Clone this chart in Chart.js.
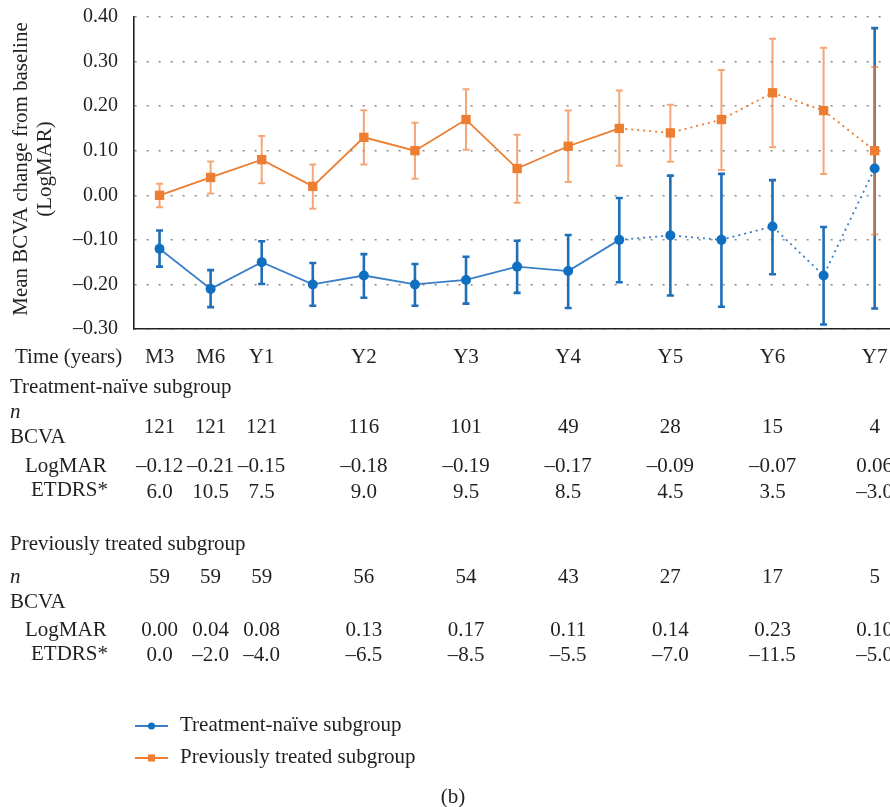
<!DOCTYPE html>
<html lang="en">
<head>
<meta charset="UTF-8">
<title>Mean BCVA change from baseline</title>
<script src="https://cdn.jsdelivr.net/npm/chart.js"></script>
<style>
  body { margin: 0; background: #fff; overflow: hidden; }
</style>
</head>
<body>
<canvas id="bcva" width="890" height="807"></canvas>
<script>
// time points: M3, M6, Y1 then every half year up to Y7
const timeLabels = ['M3', 'M6', 'Y1', '', 'Y2', '', 'Y3', '', 'Y4', '', 'Y5', '', 'Y6', '', 'Y7'];

// treatment-naive subgroup (LogMAR), mean and error bar ends
const naiveMean = [-0.12, -0.21, -0.15, -0.20, -0.18, -0.20, -0.19, -0.16, -0.17, -0.10, -0.09, -0.10, -0.07, -0.18, 0.06];
const naiveHigh = [-0.079, -0.168, -0.103, -0.152, -0.132, -0.154, -0.138, -0.102, -0.089, -0.006, 0.044, 0.048, 0.034, -0.071, 0.375];
const naiveLow = [-0.160, -0.251, -0.199, -0.248, -0.230, -0.248, -0.243, -0.219, -0.253, -0.195, -0.225, -0.250, -0.177, -0.290, -0.254];

// previously treated subgroup
const prevMean = [0.00, 0.04, 0.08, 0.02, 0.13, 0.10, 0.17, 0.06, 0.11, 0.15, 0.14, 0.17, 0.23, 0.19, 0.10];
const prevHigh = [0.026, 0.076, 0.133, 0.069, 0.191, 0.163, 0.238, 0.136, 0.190, 0.235, 0.203, 0.281, 0.351, 0.331, 0.288];
const prevLow = [-0.027, 0.004, 0.027, -0.030, 0.069, 0.037, 0.102, -0.017, 0.030, 0.066, 0.075, 0.057, 0.108, 0.048, -0.088];

// the line turns dotted from this point on
const dottedFrom = 9;

// table under the chart, only at the labelled time points
const tableCols = [0, 1, 2, 4, 6, 8, 10, 12, 14];
const naiveN = [121, 121, 121, 116, 101, 49, 28, 15, 4];
const naiveLogmar = [-0.12, -0.21, -0.15, -0.18, -0.19, -0.17, -0.09, -0.07, 0.06];
const naiveEtdrs = [6.0, 10.5, 7.5, 9.0, 9.5, 8.5, 4.5, 3.5, -3.0];
const prevN = [59, 59, 59, 56, 54, 43, 27, 17, 5];
const prevLogmar = [0.00, 0.04, 0.08, 0.13, 0.17, 0.11, 0.14, 0.23, 0.10];
const prevEtdrs = [0.0, -2.0, -4.0, -6.5, -8.5, -5.5, -7.0, -11.5, -5.0];

const BLUE = '#0f6fc0';
const BLUE_LINE = '#3a7fc6';
const ORANGE = '#ed7d31';
const TEXT = '#231f20';
const SERIF = '"Liberation Serif", "Times New Roman", serif';
const FONT = '21px ' + SERIF;

function fmt(v, d) {
  v = Math.round(v * 1000) / 1000;
  return (v < 0 ? '\u2013' : '') + Math.abs(v).toFixed(d);
}

const toPts = arr => arr.map((y, i) => ({ x: i, y: y }));
const dotted = ctx => ctx.p0DataIndex >= dottedFrom ? [2, 4] : undefined;

const errorBars = {
  id: 'errorBars',
  beforeDatasetsDraw(chart) {
    const { ctx, scales: { x, y } } = chart;
    const draw = (hi, lo, color, width) => {
      ctx.save();
      ctx.strokeStyle = color;
      ctx.lineWidth = width;
      hi.forEach((h, i) => {
        const px = x.getPixelForValue(i);
        const y1 = y.getPixelForValue(h), y2 = y.getPixelForValue(lo[i]);
        ctx.beginPath();
        ctx.moveTo(px, y1); ctx.lineTo(px, y2);
        ctx.moveTo(px - 3.5, y1); ctx.lineTo(px + 3.5, y1);
        ctx.moveTo(px - 3.5, y2); ctx.lineTo(px + 3.5, y2);
        ctx.stroke();
      });
      ctx.restore();
    };
    draw(naiveHigh, naiveLow, '#1f6fb8', 2.6);
    draw(prevHigh, prevLow, 'rgba(240,128,60,0.7)', 2);
  }
};

const extras = {
  id: 'extras',
  afterDraw(chart) {
    const { ctx, scales: { x } } = chart;
    const text = (s, px, py, align, font) => {
      ctx.font = font || FONT;
      ctx.textAlign = align || 'left';
      ctx.fillText(s, px, py);
    };
    ctx.save();
    ctx.fillStyle = TEXT;
    ctx.textBaseline = 'middle';

    // y axis title
    ctx.save();
    ctx.translate(33, 169);
    ctx.rotate(-Math.PI / 2);
    text('Mean BCVA change from baseline', 0, -12, 'center');
    text('(LogMAR)', 0, 12, 'center');
    ctx.restore();

    // time row
    text('Time (years)', 15, 357);
    timeLabels.forEach((l, i) => { if (l) text(l, x.getPixelForValue(i), 357, 'center'); });

    const col = k => x.getPixelForValue(tableCols[k]);
    const block = (title, y0, nVals, logVals, etVals, nY) => {
      text(title, 10, y0 + 1);
      text('n', 10, y0 + 26 + (nY ? 8 : 0), 'left', 'italic ' + FONT);
      text('BCVA', 10, y0 + (nY ? 59 : 51));
      text('LogMAR', 25, y0 + (nY ? 87 : 80));
      text('ETDRS*', 31, y0 + (nY ? 111 : 104));
      nVals.forEach((v, k) => text(String(v), col(k), y0 + (nY ? 34 : 41), 'center'));
      logVals.forEach((v, k) => text(fmt(v, 2), col(k), y0 + (nY ? 87 : 80), 'center'));
      etVals.forEach((v, k) => text(fmt(v, 1), col(k), y0 + (nY ? 112 : 106), 'center'));
    };
    block('Treatment-na\u00efve subgroup', 386, naiveN, naiveLogmar, naiveEtdrs, false);
    block('Previously treated subgroup', 543, prevN, prevLogmar, prevEtdrs, true);

    // legend
    ctx.lineWidth = 2;
    ctx.strokeStyle = BLUE_LINE;
    ctx.beginPath(); ctx.moveTo(135, 726); ctx.lineTo(168, 726); ctx.stroke();
    ctx.fillStyle = BLUE;
    ctx.beginPath(); ctx.arc(151.5, 726, 3.5, 0, Math.PI * 2); ctx.fill();
    ctx.strokeStyle = ORANGE;
    ctx.beginPath(); ctx.moveTo(135, 758); ctx.lineTo(168, 758); ctx.stroke();
    ctx.fillStyle = ORANGE;
    ctx.fillRect(148, 754.5, 7, 7);
    ctx.fillStyle = TEXT;
    text('Treatment-na\u00efve subgroup', 180, 725);
    text('Previously treated subgroup', 180, 757);
    text('(b)', 453, 797, 'center');
    ctx.restore();
  }
};

new Chart(document.getElementById('bcva'), {
  type: 'line',
  data: {
    datasets: [
      {
        label: 'Treatment-na\u00efve subgroup',
        data: toPts(naiveMean),
        borderColor: BLUE_LINE,
        borderWidth: 1.8,
        pointStyle: 'circle',
        pointRadius: 5,
        pointBackgroundColor: BLUE,
        pointBorderWidth: 0,
        segment: { borderDash: dotted }
      },
      {
        label: 'Previously treated subgroup',
        data: toPts(prevMean),
        borderColor: ORANGE,
        borderWidth: 1.8,
        pointStyle: 'rect',
        pointRadius: 6.6,
        pointBackgroundColor: ORANGE,
        pointBorderWidth: 0,
        segment: { borderDash: dotted }
      }
    ]
  },
  options: {
    responsive: false,
    animation: false,
    devicePixelRatio: 1,
    layout: { autoPadding: false, padding: { top: 17, right: 0, bottom: 478, left: 0 } },
    plugins: { legend: { display: false }, tooltip: { enabled: false } },
    scales: {
      x: {
        type: 'linear',
        min: -0.5,
        max: 14.3,
        ticks: { display: false },
        grid: { display: false, drawTicks: false },
        border: { display: true, color: '#222', width: 1.6 }
      },
      y: {
        min: -0.3,
        max: 0.4,
        afterFit: s => { s.width = 134; s.paddingTop = 0; s.paddingBottom = 0; },
        ticks: {
          stepSize: 0.1,
          padding: 16,
          color: TEXT,
          font: { family: SERIF, size: 20 },
          callback: v => fmt(v, 2)
        },
        grid: { color: '#8a8a8a', lineWidth: 1.5, drawTicks: false },
        border: { display: true, color: '#222', width: 1.6, dash: [2, 10] }
      }
    }
  },
  plugins: [errorBars, extras]
});
</script>
</body>
</html>
